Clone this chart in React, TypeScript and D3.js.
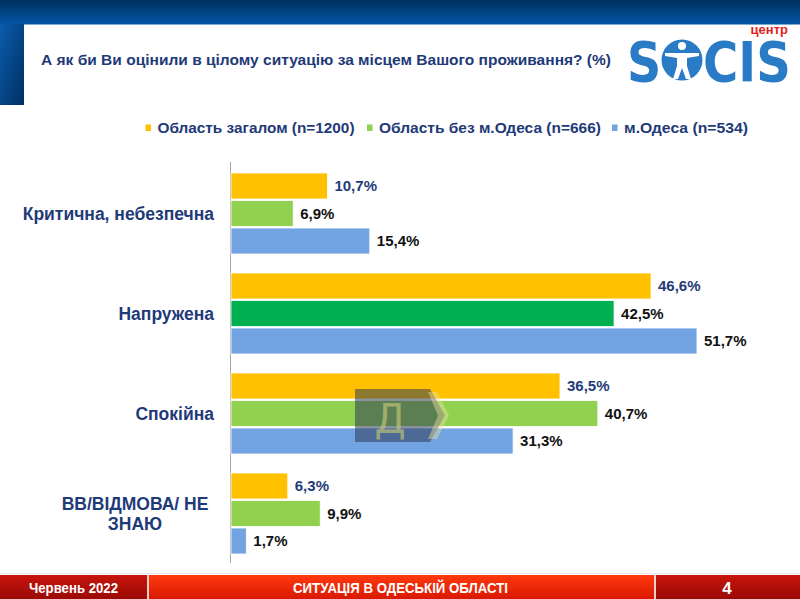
import React from "react";
import * as d3 from "d3";

const categories = ["Критична, небезпечна", "Напружена", "Спокійна", "ВВ/ВІДМОВА/ НЕ ЗНАЮ"];
const seriesNames = ["Область загалом (n=1200)", "Область без м.Одеса (n=666)", "м.Одеса (n=534)"];
const oblast = [10.7, 46.6, 36.5, 6.3];
const oblastNoOdesa = [6.9, 42.5, 40.7, 9.9];
const odesa = [15.4, 51.7, 31.3, 1.7];
const highlightedCategory = "Напружена";

const title = "А як би Ви оцінили в цілому ситуацію за місцем Вашого проживання? (%)";
const footerLeft = "Червень 2022";
const footerMid = "СИТУАЦІЯ В ОДЕСЬКІЙ ОБЛАСТІ";
const footerRight = "4";

const W = 800;
const H = 599;
const NAVY = "#1f3a78";
const colors = ["#ffc000", "#92d050", "#72a3e2"];
const highlightGreen = "#00b050";
const labelColors = [NAVY, "#111", "#111"];
const FONT = "'Liberation Sans', Arial, sans-serif";

const seriesValues = [oblast, oblastNoOdesa, odesa];

function fmt(v: number) {
  return v.toFixed(1).replace(".", ",") + "%";
}

export default function App() {
  const x = d3.scaleLinear().domain([0, 55]).range([231, 231 + 55 * 9.013]);
  const y = d3.scaleBand<string>().domain(categories).range([163.5, 563.5]).paddingInner(0.19).paddingOuter(0.095);
  const sub = d3.scaleBand<number>().domain([0, 1, 2]).range([0, y.bandwidth()]).paddingInner(0.055);

  const legendX = [145.5, 367, 612];
  const legendW = [197, 222, 124];

  return (
    <svg width={W} height={H} style={{ position: "absolute", left: 0, top: 0, display: "block" }} fontFamily={FONT}>
      <defs>
        <linearGradient id="topband" x1="0" y1="0" x2="0" y2="1">
          <stop offset="0" stopColor="#00305f" />
          <stop offset="1" stopColor="#0456a6" />
        </linearGradient>
        <linearGradient id="leftband" x1="0" y1="0" x2="1" y2="1">
          <stop offset="0" stopColor="#0a5cac" />
          <stop offset="1" stopColor="#002f62" />
        </linearGradient>
        <linearGradient id="footMid" x1="0" y1="0" x2="0" y2="1">
          <stop offset="0" stopColor="#ff3a10" />
          <stop offset="1" stopColor="#d81800" />
        </linearGradient>
        <linearGradient id="footSide" x1="0" y1="0" x2="0" y2="1">
          <stop offset="0" stopColor="#c8140c" />
          <stop offset="1" stopColor="#9a0a06" />
        </linearGradient>
      </defs>
      <rect x={0} y={0} width={W} height={H} fill="#fff" />
      {/* header */}
      <rect x={0} y={0} width={W} height={24} fill="url(#topband)" />
      <rect x={0} y={24} width={24} height={81} fill="url(#leftband)" />
      <line x1={24} x2={W} y1={24.5} y2={24.5} stroke="#7fa6cf" strokeWidth={1} />
      <text x={41} y={65} fontSize={15.5} fontWeight="bold" fill={NAVY} textLength={570} lengthAdjust="spacingAndGlyphs">{title}</text>

      {/* logo */}
      <g fill="#2a7bc6" fontFamily="'DejaVu Sans', sans-serif" fontWeight="bold" fontSize={56}>
        <text transform="translate(627,81) scale(0.85,1)">S</text>
        <circle cx={682} cy={60} r={20.5} />
        <text transform="translate(703,81) scale(0.86,1)">CIS</text>
      </g>
      <g fill="#fff">
        <circle cx={682} cy={46} r={4} />
        <path d="M665,53 L699,53 L699,56 L687,58 L687,66 L691,79 L686,79 L682,68 L678,79 L673,79 L677,66 L677,58 L665,56 Z" />
      </g>
      <text x={788} y={34} fontSize={13} fontWeight="bold" fill="#e0221c" textAnchor="end">центр</text>

      {/* legend */}
      {seriesNames.map((s, i) => (
        <g key={s}>
          <rect x={legendX[i]} y={124.5} width={5.5} height={6.5} fill={colors[i]} />
          <text x={legendX[i] + 12} y={133} fontSize={15.5} fontWeight="bold" fill={NAVY} textLength={legendW[i]} lengthAdjust="spacingAndGlyphs">{s}</text>
        </g>
      ))}

      {/* axis line */}
      <line x1={230.5} x2={230.5} y1={162} y2={563} stroke="#a6a6a6" strokeWidth={1} />

      {/* category labels */}
      {categories.map((c) => {
        const cy = (y(c) as number) + y.bandwidth() / 2;
        if (c === "ВВ/ВІДМОВА/ НЕ ЗНАЮ") {
          return (
            <text key={c} x={135} y={cy - 4} fontSize={17.5} fontWeight="bold" fill={NAVY} textAnchor="middle">
              <tspan x={135} dy={0}>ВВ/ВІДМОВА/ НЕ</tspan>
              <tspan x={135} dy={20}>ЗНАЮ</tspan>
            </text>
          );
        }
        return (
          <text key={c} x={214} y={cy + 6} fontSize={17.5} fontWeight="bold" fill={NAVY} textAnchor="end">{c}</text>
        );
      })}

      {/* bars */}
      {categories.map((c, ci) => (
        <g key={c} transform={`translate(0,${y(c)})`}>
          {seriesValues.map((vals, si) => {
            const v = vals[ci];
            const by = sub(si) as number;
            const fill = si === 1 && c === highlightedCategory ? highlightGreen : colors[si];
            return (
              <g key={si}>
                <rect x={x(0)} y={by} width={x(v) - x(0)} height={sub.bandwidth()} fill={fill} stroke="#fff" strokeWidth={0.8} />
                <text x={x(v) + 7} y={by + sub.bandwidth() / 2 + 5} fontSize={15} fontWeight="bold" fill={labelColors[si]}>{fmt(v)}</text>
              </g>
            );
          })}
        </g>
      ))}

      {/* watermark */}
      <g>
        <path d="M355,389 L430,389 L445,415.5 L430,442 L355,442 Z" fill="rgba(45,60,85,0.55)" />
        <path d="M428,392 L437,392 L449,415.5 L437,439 L428,439 L438,415.5 Z" fill="rgba(235,225,160,0.45)" />
        <text x={390} y={433} fontSize={40} fill="rgba(200,200,120,0.65)" textAnchor="middle" fontFamily="'DejaVu Sans', sans-serif">Д</text>
      </g>

      {/* footer */}
      <line x1={0} x2={W} y1={573.5} y2={573.5} stroke="#e6e6e6" />
      <rect x={0} y={575} width={147} height={24} fill="url(#footSide)" />
      <rect x={149} y={575} width={505} height={24} fill="url(#footMid)" />
      <rect x={656} y={575} width={144} height={24} fill="url(#footSide)" />
      <rect x={147} y={575} width={2} height={24} fill="#f0d0c8" />
      <rect x={654} y={575} width={2} height={24} fill="#f0d0c8" />
      <text x={29} y={593} fontSize={15} fontWeight="bold" fill="#fff" textLength={89} lengthAdjust="spacingAndGlyphs">{footerLeft}</text>
      <text x={293} y={593} fontSize={15} fontWeight="bold" fill="#fff" textLength={215} lengthAdjust="spacingAndGlyphs">{footerMid}</text>
      <text x={727} y={594} fontSize={17} fontWeight="bold" fill="#fff" textAnchor="middle">{footerRight}</text>
    </svg>
  );
}
